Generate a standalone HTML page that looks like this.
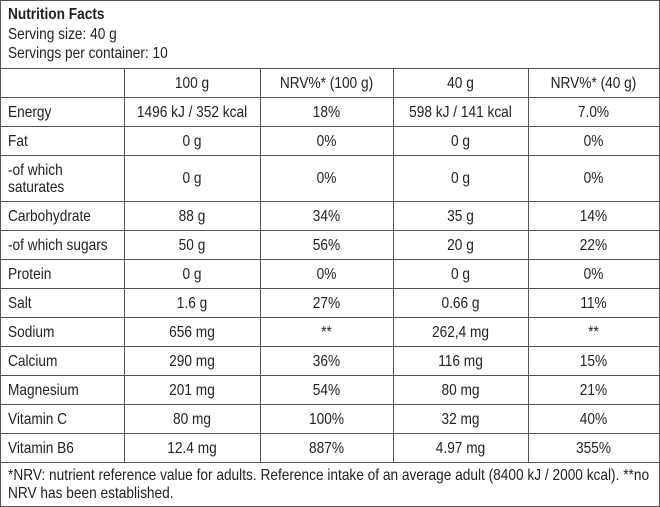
<!DOCTYPE html>
<html><head><meta charset="utf-8"><style>
body{margin:0;background:#fff;width:660px;height:507px;overflow:hidden;position:relative;font-family:"Liberation Sans Narrow","Liberation Sans",sans-serif;font-size:16px;color:#222}
.h{position:absolute;left:0;width:660px;height:1px;background:#555}
.v{position:absolute;width:1px;background:#555}
.t{position:absolute;white-space:nowrap;line-height:17px;transform:scaleX(0.855);transform-origin:0 50%}
.c{text-align:center;transform-origin:50% 50%}
</style></head><body>
<div class="v" style="left:0;top:0;height:507px"></div>
<div class="v" style="left:659px;top:0;height:507px"></div>
<div class="h" style="top:0"></div>
<div class="h" style="top:506px"></div>
<div class="t" style="left:8px;top:6px;font-weight:bold">Nutrition Facts</div>
<div class="t" style="left:8px;top:26px">Serving size: 40 g</div>
<div class="t" style="left:8px;top:45px">Servings per container: 10</div>
<div class="t" style="left:8px;top:467px">*NRV: nutrient reference value for adults. Reference intake of an average adult (8400 kJ / 2000 kcal). **no</div>
<div class="t" style="left:8px;top:485px">NRV has been established.</div>
<div id="g"></div>
<script>
var ys=[68,97,126,155,201,230,259,288,317,346,375,404,433,462];
var xs=[0,124,260,393,528,659];
var rows=[["","100 g","NRV%* (100 g)","40 g","NRV%* (40 g)"],
["Energy","1496 kJ / 352 kcal","18%","598 kJ / 141 kcal","7.0%"],
["Fat","0 g","0%","0 g","0%"],
["-of which<br>saturates","0 g","0%","0 g","0%"],
["Carbohydrate","88 g","34%","35 g","14%"],
["-of which sugars","50 g","56%","20 g","22%"],
["Protein","0 g","0%","0 g","0%"],
["Salt","1.6 g","27%","0.66 g","11%"],
["Sodium","656 mg","**","262,4 mg","**"],
["Calcium","290 mg","36%","116 mg","15%"],
["Magnesium","201 mg","54%","80 mg","21%"],
["Vitamin C","80 mg","100%","32 mg","40%"],
["Vitamin B6","12.4 mg","887%","4.97 mg","355%"]];
var h="";
ys.forEach(function(y){h+='<div class="h" style="top:'+y+'px"></div>';});
[124,260,393,528].forEach(function(x){h+='<div class="v" style="left:'+x+'px;top:68px;height:394px"></div>';});
rows.forEach(function(r,i){
 var y0=ys[i],y1=ys[i+1],mid=(y0+y1)/2;
 r.forEach(function(s,j){
  var two=s.indexOf("<br>")>=0;
  var top=mid-(two?17:8.5)+0.5;
  if(j==0)h+='<div class="t" style="left:8px;top:'+top+'px">'+s+'</div>';
  else h+='<div class="t c" style="left:'+xs[j]+'px;width:'+(xs[j+1]-xs[j])+'px;top:'+top+'px">'+s+'</div>';
 });
});
document.getElementById("g").innerHTML=h;
</script>
</body></html>
